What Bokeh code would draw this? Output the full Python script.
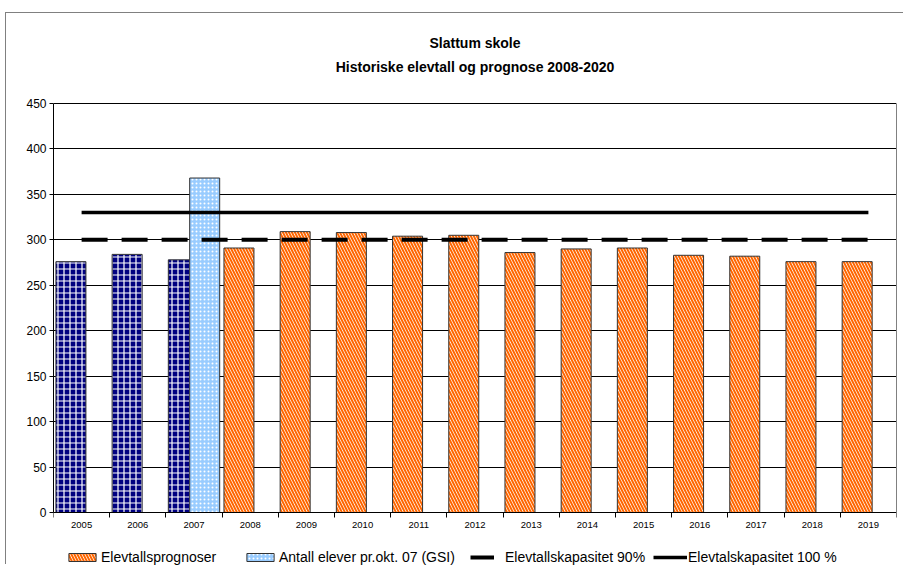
from bokeh.plotting import figure
from bokeh.models import (ColumnDataSource, Range1d, FixedTicker, Legend, LegendItem, Label, LinearAxis)
from bokeh.transform import dodge
from bokeh.embed import file_html
from bokeh.resources import INLINE

# ---- data ----
hist_years = [2005, 2006, 2007]
hist_values = [276, 284, 278]
gsi_years = [2007]
gsi_values = [368]
prog_years = [2008, 2009, 2010, 2011, 2012, 2013, 2014, 2015, 2016, 2017, 2018, 2019]
prog_values = [291, 309, 308, 304, 305, 286, 290, 291, 283, 282, 276, 276]
cap_years = [2005, 2019]
cap90 = [300, 300]
cap100 = [330, 330]
all_years = list(range(2005, 2020))
y_ticks = list(range(0, 451, 50))
title_lines = ["Slattum skole", "Historiske elevtall og prognose 2008-2020"]

FONT = "Liberation Sans"

# layout: frame spans the whole canvas height (552 px); value axis 0..450 occupies 409 px
PX_PER_UNIT = 409 / 450
Y_LO = -(565 - 512) / PX_PER_UNIT
Y_HI = (512 - 13) / PX_PER_UNIT

p = figure(width=898, height=552, output_backend="svg", toolbar_location=None,
           x_range=Range1d(2004.5, 2019.5), y_range=Range1d(Y_LO, Y_HI),
           min_border_left=47, min_border_right=8, min_border_top=0, min_border_bottom=0)
p.margin = (12, 0, 0, 5)
p.styles = {"border-top": "1px solid #808080", "border-left": "1px solid #808080"}
p.background_fill_color = "white"
p.border_fill_color = "white"
p.outline_line_color = None

# titles (screen units relative to the plot frame, origin bottom-left)
for txt, page_y in zip(title_lines, [42.5, 66.5]):
    p.add_layout(Label(x=421.5, y=565 - page_y, x_units="screen", y_units="screen", text=txt,
                       text_align="center", text_baseline="middle",
                       text_font=FONT, text_font_size="14px", text_font_style="bold",
                       text_color="black"))

# grid
p.xgrid.visible = False
p.ygrid.ticker = FixedTicker(ticks=y_ticks)
p.ygrid.grid_line_color = "black"
p.ygrid.grid_line_width = 1

# axes
p.yaxis.ticker = FixedTicker(ticks=y_ticks)
p.yaxis.bounds = (0, 450)
p.yaxis.axis_line_color = "black"
p.yaxis.major_tick_line_color = "black"
p.yaxis.major_tick_out = 4
p.yaxis.major_tick_in = 0
p.yaxis.minor_tick_line_color = None
p.yaxis.major_label_text_font = FONT
p.yaxis.major_label_text_font_size = "12px"
p.yaxis.major_label_text_color = "black"
p.yaxis.major_label_standoff = 3

right_axis = LinearAxis(ticker=FixedTicker(ticks=[]), bounds=(0, 450),
                        axis_line_color="#808080", major_tick_line_color=None,
                        minor_tick_line_color=None, major_label_standoff=0)
p.add_layout(right_axis, "right")

p.xaxis.fixed_location = 0
p.xaxis.ticker = FixedTicker(ticks=all_years, minor_ticks=[y - 0.5 for y in all_years] + [2019.5])
p.xaxis.axis_line_color = "black"
p.xaxis.major_tick_out = 0
p.xaxis.major_tick_in = 0
p.xaxis.minor_tick_line_color = "black"
p.xaxis.minor_tick_out = 5
p.xaxis.minor_tick_in = 0
p.xaxis.major_label_text_font = FONT
p.xaxis.major_label_text_font_size = "9.5px"
p.xaxis.major_label_text_color = "black"
p.xaxis.major_label_standoff = 4

BW = 0.534
src_hist = ColumnDataSource(dict(year=hist_years, v=hist_values))
src_gsi = ColumnDataSource(dict(year=gsi_years, v=gsi_values))
src_prog = ColumnDataSource(dict(year=prog_years, v=prog_values))

r_hist = p.vbar(x=dodge("year", -0.19, range=p.x_range), top="v", bottom=0, width=BW, source=src_hist,
                fill_color="#000080", line_color="#333333", line_width=1,
                hatch_pattern="+", hatch_color="white", hatch_scale=6, hatch_weight=1.2)
r_gsi = p.vbar(x=dodge("year", 0.19, range=p.x_range), top="v", bottom=0, width=BW, source=src_gsi,
               fill_color="#99CCFF", line_color="#333333", line_width=1,
               hatch_pattern=".", hatch_color="white", hatch_scale=4, hatch_weight=1)
r_prog = p.vbar(x=dodge("year", -0.2, range=p.x_range), top="v", bottom=0, width=BW, source=src_prog,
                fill_color="white", line_color="#333333", line_width=1,
                hatch_pattern="\\", hatch_color="#FF6600", hatch_scale=6, hatch_weight=2)

r90 = p.line(cap_years, cap90, line_color="black", line_width=4, line_dash="26 14")
r100 = p.line(cap_years, cap100, line_color="black", line_width=3.5)


def add_legend(label, rend, x, gw, standoff):
    lg = Legend(items=[LegendItem(label=label, renderers=[rend])],
                location=(x, 0), orientation="horizontal",
                glyph_width=gw, glyph_height=10, label_height=12,
                label_standoff=standoff, padding=0, margin=0, spacing=0,
                border_line_color=None, background_fill_alpha=0,
                label_text_font=FONT, label_text_font_size="14px",
                label_text_color="black")
    p.add_layout(lg, "center")


add_legend("Elevtallsprognoser", r_prog, 12, 34, 2)
add_legend("Antall elever pr.okt. 07 (GSI)", r_gsi, 190, 34, 2)
add_legend("Elevtallskapasitet 90%", r90, 417, 24, 11)
add_legend("Elevtalskapasitet 100 %", r100, 600, 34, 1)

open("out.html", "w").write(file_html(p, INLINE))
